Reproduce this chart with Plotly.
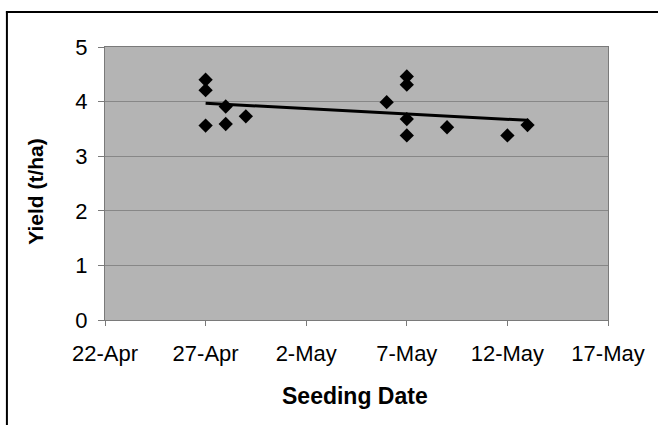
import numpy as np
import pandas as pd
import plotly.graph_objects as go

# Seeding date and grain yield for each plot
seeding_dates = [
    "2007-04-27", "2007-04-27", "2007-04-27",
    "2007-04-28", "2007-04-28",
    "2007-04-29",
    "2007-05-06",
    "2007-05-07", "2007-05-07", "2007-05-07", "2007-05-07",
    "2007-05-09",
    "2007-05-12",
    "2007-05-13",
]
yield_t_ha = [
    4.40, 4.21, 3.56,
    3.91, 3.59,
    3.73,
    3.99,
    4.46, 4.31, 3.68, 3.38,
    3.53,
    3.38,
    3.57,
]

tick_dates = ["2007-04-22", "2007-04-27", "2007-05-02", "2007-05-07", "2007-05-12", "2007-05-17"]
tick_labels = ["22-Apr", "27-Apr", "2-May", "7-May", "12-May", "17-May"]
yield_ticks = [0, 1, 2, 3, 4, 5]

# Linear trend of yield against seeding date
dates = pd.to_datetime(seeding_dates)
days = (dates - dates.min()).days.to_numpy(dtype=float)
slope, intercept = np.polyfit(days, np.array(yield_t_ha), 1)
trend_days = np.array([days.min(), days.max()])
trend_dates = dates.min() + pd.to_timedelta(trend_days, unit="D")
trend_vals = intercept + slope * trend_days

font_family = "Liberation Sans, Arial, sans-serif"

fig = go.Figure()
fig.add_trace(go.Scatter(
    x=trend_dates, y=trend_vals, mode="lines",
    line=dict(color="black", width=3), hoverinfo="skip", showlegend=False,
))
fig.add_trace(go.Scatter(
    x=dates, y=yield_t_ha, mode="markers",
    marker=dict(symbol="diamond", size=11, color="black"),
    showlegend=False,
))

fig.update_layout(
    width=658, height=425,
    margin=dict(l=105, r=50, t=47, b=105),
    paper_bgcolor="white",
    plot_bgcolor="#b4b4b4",
    font=dict(family=font_family, size=20, color="black"),
    xaxis=dict(
        range=[tick_dates[0], tick_dates[-1]],
        tickvals=tick_dates, ticktext=tick_labels,
        showgrid=False, zeroline=False,
        showline=True, linecolor="#7a7a7a", linewidth=1, mirror=True,
        ticks="outside", ticklen=5, tickcolor="#7a7a7a",
        tickfont=dict(size=22), ticklabelstandoff=9,
    ),
    yaxis=dict(
        range=[0, 5], tickvals=yield_ticks,
        showgrid=True, gridcolor="#878787", gridwidth=1, zeroline=False,
        showline=True, linecolor="#7a7a7a", linewidth=1, mirror=True,
        ticks="outside", ticklen=6, tickcolor="#7a7a7a",
        tickfont=dict(size=22), ticklabelstandoff=6,
    ),
    annotations=[
        dict(text="<b>Seeding Date</b>", xref="paper", yref="paper",
             x=0.497, y=-0.28, xanchor="center", yanchor="middle",
             showarrow=False, font=dict(size=23)),
        dict(text="<b>Yield (t/ha)</b>", xref="paper", yref="paper",
             x=-0.137, y=0.47, xanchor="center", yanchor="middle",
             textangle=-90, showarrow=False, font=dict(size=21)),
    ],
    shapes=[
        # chart frame: top and left edges, running to the page edges
        dict(type="line", xref="paper", yref="paper",
             x0=-0.197, x1=1.1, y0=1.128, y1=1.128,
             line=dict(color="black", width=2)),
        dict(type="line", xref="paper", yref="paper",
             x0=-0.195, x1=-0.195, y0=1.13, y1=-0.385,
             line=dict(color="black", width=2)),
    ],
)

fig.write_html("out.html")
